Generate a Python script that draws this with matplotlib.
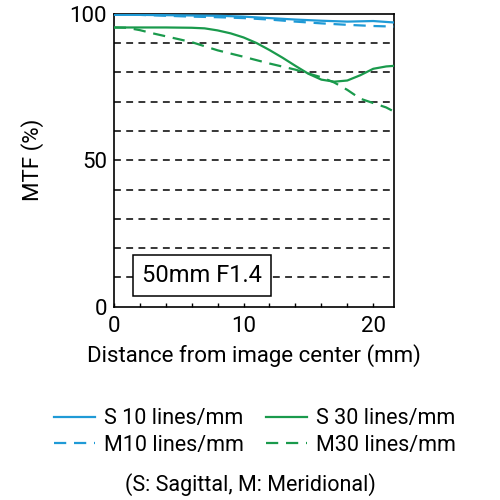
#!/usr/bin/env python3
"""MTF chart for a 50mm F1.4 lens."""

import matplotlib
matplotlib.use("Agg")
import matplotlib.pyplot as plt

plt.rcParams['font.family'] = ['Roboto', 'DejaVu Sans']

BLUE = '#1f9ad6'
GREEN = '#1a9a4c'

# distance from image centre (mm)
s10_x = [0, 2, 4, 6, 8, 10, 12, 14, 16, 18, 20, 21.6]
s10_y = [99.6, 99.6, 99.5, 99.4, 99.3, 99.0, 98.5, 98.0, 97.6, 97.3, 97.5, 97.0]

m10_x = [0, 2, 4, 6, 8, 10, 12, 14, 16, 18, 20, 21.6]
m10_y = [99.8, 99.6, 99.3, 99.0, 98.8, 98.5, 98.0, 97.3, 96.7, 96.2, 95.8, 95.6]

s30_x = [0, 2, 4, 6, 7, 8, 9, 10, 11, 12, 13, 14, 15, 16, 17, 18, 19, 20, 21, 21.6]
s30_y = [95.3, 95.3, 95.3, 95.2, 95.0, 94.3, 93.3, 91.9, 90.0, 87.6, 85.0, 82.2,
         79.5, 77.5, 76.8, 77.2, 79.0, 81.2, 82.0, 82.2]

m30_x = [0, 1, 2, 3, 4, 6, 8, 10, 12, 14, 16, 17, 18, 19, 20, 21, 21.6]
m30_y = [95.3, 95.2, 94.4, 93.3, 92.3, 90.3, 87.5, 85.3, 83.0, 80.9, 78.3, 76.5,
         74.0, 71.0, 69.5, 68.0, 66.6]

x_ticks = list(range(0, 21, 2))
x_labels = ['0', '', '', '', '', '10', '', '', '', '', '20']
y_ticks = [0, 50, 100]
grid_levels = [10, 20, 30, 40, 50, 60, 70, 80, 90]

fig = plt.figure(figsize=(5, 5), dpi=100)
ax = fig.add_axes([0.2276, 0.3866, 0.5604, 0.586])

for g in grid_levels:
    ax.axhline(g, color='black', lw=1.1, ls=(0, (4.5, 3.5)), zorder=1)

ax.plot(m30_x, m30_y, color=GREEN, lw=1.6, ls=(0, (5.5, 3.5)), label='M30 lines/mm', zorder=3)
ax.plot(s30_x, s30_y, color=GREEN, lw=1.6, label='S 30 lines/mm', zorder=3)
ax.plot(m10_x, m10_y, color=BLUE, lw=1.6, ls=(0, (5.5, 3.5)), label='M10 lines/mm', zorder=4)
ax.plot(s10_x, s10_y, color=BLUE, lw=1.6, label='S 10 lines/mm', zorder=4)

ax.set_xlim(0, 21.6)
ax.set_ylim(0, 100)
ax.set_xticks(x_ticks)
ax.set_xticklabels(x_labels)
ax.set_yticks(y_ticks)
ax.tick_params(axis='x', direction='in', length=3, width=1, labelsize=16, pad=7)
ax.tick_params(axis='y', length=0, labelsize=16, pad=5)
for sp in ax.spines.values():
    sp.set_linewidth(1.2)

ax.set_xlabel('Distance from image center (mm)', fontsize=16, labelpad=5)
ax.set_ylabel('MTF (%)', fontsize=16, labelpad=18)

ax.text(6.8, 10.6, '50mm F1.4', fontsize=17, ha='center', va='center', zorder=5,
        bbox=dict(boxstyle='square,pad=0.38', fc='white', ec='black', lw=1.1))

handles, labels = ax.get_legend_handles_labels()
order = [3, 2, 1, 0]
fig.legend([handles[i] for i in order], [labels[i] for i in order],
           loc='center', bbox_to_anchor=(0.51, 0.136), ncol=2, frameon=False,
           fontsize=15.5, handlelength=1.9, handletextpad=0.45, columnspacing=1.0,
           labelspacing=0.25)

fig.text(0.5, 0.03, '(S: Sagittal, M: Meridional)', ha='center', va='center', fontsize=15.5)

fig.savefig('out.png', dpi=100)
